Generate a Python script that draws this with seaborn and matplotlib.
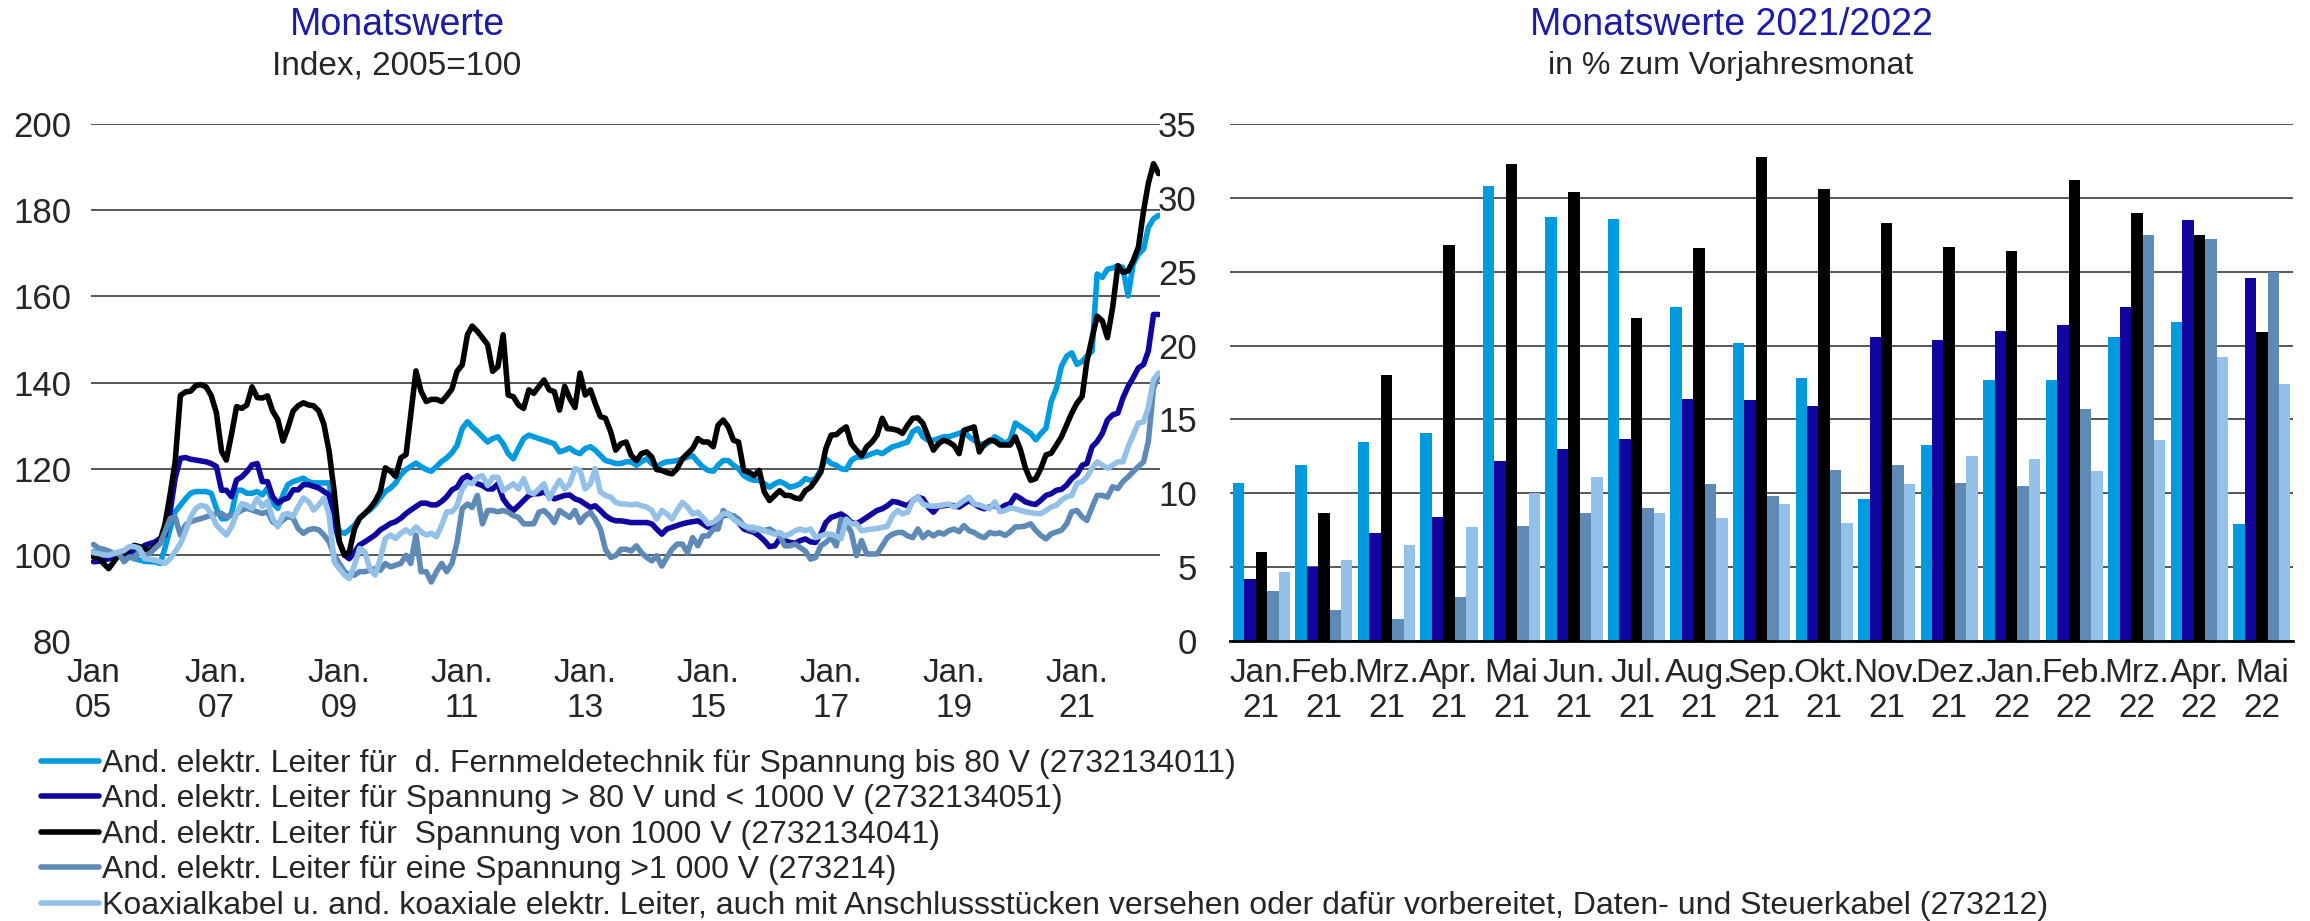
import pandas as pd
import matplotlib
matplotlib.use("Agg")
import matplotlib.pyplot as plt
import seaborn as sns

# Monthly index values 2005-01 .. 2022-05 (2005=100)
fernmelde = [
    100.7, 100.5, 100.3, 100, 99.9, 100.3, 99.5, 99.9, 99.1, 98.8, 98.5, 98.4,
    98.4, 98, 101.5, 106.1, 110, 111.5, 113, 114.3, 114.7, 114.7, 114.7, 114.3,
    110.8, 108.4, 108.4, 109.6, 115, 115, 114.3, 114.3, 114.7, 113.9, 115.5, 112,
    110.8, 113.9, 116.3, 117, 117.4, 117.8, 117, 116.7, 116.7, 116.7, 116.7, 109.3,
    105.4, 105, 105.8, 106.9, 108.5, 109.6, 110.4, 111.6, 113.2, 114.7, 115.5, 116.7,
    118.6, 119.8, 120.5, 121.3, 120.5, 119.8, 119.4, 120.5, 121.7, 122.5, 123.7, 125.4,
    129.3, 130.9, 129.7, 128.6, 127.4, 126.2, 127, 127.4, 125.8, 123.5, 122.3, 124.7,
    127, 127.8, 127.4, 127, 126.6, 126.2, 125.8, 123.9, 124.3, 124.8, 123.9, 123.5,
    124.7, 125.1, 124.3, 123.1, 121.9, 121.6, 121.2, 121.2, 121.6, 121.6, 120.8, 121.6,
    122.3, 121.2, 120.4, 121.2, 121.6, 121.7, 121.9, 122.2, 122.7, 123, 121.6, 120.4,
    119.6, 119.4, 120.8, 121.9, 121.9, 120.8, 120, 118.4, 117.7, 117.3, 117.3, 116.5,
    115.7, 116.5, 117, 116.5, 115.7, 116, 116.5, 117.7, 117.3, 117.7, 119.8, 122.3,
    121.2, 120.8, 120, 119.8, 121.9, 122.7, 122.7, 123, 123.5, 123.9, 123.5, 124.3,
    125.1, 125.4, 125.8, 126.2, 128.6, 129.3, 127.4, 126.6, 126.6, 127, 127.4, 127.4,
    127.8, 128.2, 128.6, 127.4, 126.6, 125.8, 125.4, 126.2, 127.4, 126.7, 125.9, 126.7,
    130.6, 129.8, 129, 128.2, 126.7, 128.2, 129.4, 135.6, 138.7, 143.8, 146.1, 146.9,
    144.2, 144.9, 146.1, 147.3, 165.2, 164.4, 166.3, 166.6, 167.1, 166.7, 160.1, 167.5,
    169.8, 171, 176, 178, 178.8,
]
bis_1000 = [
    98.4, 98.5, 98.8, 99.1, 99.5, 100, 100.3, 100.7, 101, 101.3, 102.2, 102.6,
    103, 103.8, 104.6, 110, 117.8, 122.4, 122.6, 122.2, 122, 121.8, 121.6, 121.2,
    120.5, 115, 115, 113.5, 117.4, 118.1, 119.3, 120.9, 121.2, 117, 117, 113.5,
    112, 112.8, 113.2, 115.1, 115.1, 116.3, 116.3, 115.9, 115.5, 114.7, 113.9, 107.7,
    103, 99.9, 99.1, 100.7, 102.3, 103, 103.8, 104.6, 105.8, 106.5, 107.3, 107.7,
    108.5, 109.6, 110.4, 111.2, 112, 112, 111.6, 111.6, 112.4, 113.5, 115.1, 115.7,
    117.7, 118.4, 117.3, 116.5, 116.1, 115.3, 115.3, 116.5, 113, 111.4, 110.3, 111.4,
    112.6, 113.8, 114.2, 114.2, 114.6, 113.8, 113, 113.4, 113.8, 113.9, 113, 112.6,
    111.8, 111, 111.4, 110.3, 109.1, 108.3, 107.9, 107.9, 107.7, 107.5, 107.5, 107.5,
    107.5, 107.2, 106, 104.8, 106, 106.4, 106.8, 107.2, 107.5, 107.7, 107.9, 107.2,
    106.4, 107.2, 108.3, 109.1, 109.5, 108.7, 107.5, 106, 105.6, 105.2, 104.4, 103.3,
    101.9, 102.1, 103.7, 103.3, 102.9, 102.7, 103.3, 103.7, 103, 102.9, 104.8, 107.5,
    108.7, 109.1, 109.5, 108.7, 107.5, 107.2, 107.9, 108.7, 109.5, 110.3, 110.7, 111.4,
    112.4, 112.2, 111.8, 111.4, 112.6, 113.4, 113, 111.1, 109.9, 111.3, 111.4, 111.6,
    111.4, 111.1, 111.8, 112.6, 111.8, 111.1, 110.7, 111.1, 111.5, 110.7, 111.5, 111.9,
    113.8, 113.1, 112.3, 111.9, 111.7, 112.7, 113.8, 114.2, 115, 115.2, 116.2, 117.7,
    118.7, 120.8, 121.2, 125.1, 126.3, 128.2, 131.3, 132.5, 132.9, 136.4, 139.1, 141.1,
    143.4, 144.2, 147.3, 155.8, 155.8,
]
von_1000 = [
    99.5, 99.5, 98, 96.8, 98.4, 100, 100.3, 101.5, 102.2, 101.9, 101.3, 101,
    102, 103.4, 107, 114, 121.6, 137, 137.8, 138, 139.3, 139.5, 139, 137,
    133, 124, 122, 128, 134.4, 134, 134.8, 139, 136.5, 136.4, 136.9, 133.4,
    131.4, 126.4, 129.5, 133.4, 134.6, 135.3, 134.8, 134.6, 133.4, 130.3, 124, 114.7,
    103, 99.9, 100.7, 106.1, 108.5, 109.6, 110.8, 112.4, 114.7, 120.2, 119.4, 118.2,
    122.5, 123.3, 132.6, 142.7, 138, 135.6, 136.1, 136.1, 135.6, 136.9, 138.5, 142.6,
    144.1, 151.1, 153.1, 151.9, 150.4, 148.8, 142.6, 143.7, 151.1, 137.1, 136.7, 134.8,
    134, 138.3, 137.5, 139.1, 140.6, 138.3, 137.9, 133.6, 139.1, 136.3, 134.2, 142.2,
    137.1, 138.3, 135.2, 132.1, 131.7, 128.6, 124.3, 125.8, 126.2, 123.1, 121.9, 123.5,
    123.9, 122.7, 119.8, 119.6, 119.1, 118.8, 120, 122.3, 123.5, 124.7, 127, 126.2,
    126.2, 125.1, 130.1, 131.3, 129.7, 126.6, 126.2, 119.6, 119.2, 118.4, 119.6, 114.6,
    112.6, 113.8, 114.9, 113.8, 113.8, 113.2, 113, 114.9, 115.7, 117.3, 119.2, 124.7,
    127.8, 127.9, 128.9, 129.7, 125.8, 124.3, 123, 125.1, 126.2, 127.8, 131.7, 129.3,
    129.2, 128.9, 128.2, 130.1, 131.7, 131.8, 130.5, 127.4, 124.3, 125.8, 126.6, 126.2,
    125.4, 123.5, 128.9, 129.3, 129.7, 123.9, 125.8, 126.6, 126.4, 125.5, 125.5, 125.5,
    127.4, 124.3, 120.1, 117.3, 117.7, 120.1, 123.2, 123.6, 125.5, 127.4, 130.2, 132.9,
    135.2, 136.8, 144.9, 150.4, 155.4, 154.3, 150.4, 157.4, 167.1, 165.6, 165.9, 168.3,
    171.4, 179.9, 186.2, 190.8, 188.5,
]
ueber_1000 = [
    102.4, 101.5, 101.3, 100.9, 100.3, 100.3, 98.4, 99.5, 99.1, 101, 99.9, 100.3,
    101.5, 102.6, 105.3, 108.4, 108.8, 104.6, 106.9, 107.7, 108.1, 108.4, 108.8, 109.2,
    109.6, 109.6, 108.8, 109.2, 109.6, 110.4, 110.8, 110.4, 110, 109.6, 110, 107.7,
    106.9, 108.1, 108.9, 108.5, 106.1, 105, 105.8, 106.1, 105.8, 104.6, 103, 99.9,
    98, 96.1, 95.3, 95.3, 96.1, 96.1, 96.4, 96.8, 96.4, 98, 97.2, 97.6,
    98, 99.9, 98, 104.6, 96.1, 96.1, 93.7, 96.1, 98, 96.1, 98, 102.9,
    110.7, 111.8, 111, 113.8, 107.2, 110.3, 110.3, 110, 110.3, 109.9, 109.1, 108.7,
    107.2, 107.2, 107.2, 109.9, 110.3, 109.1, 107.5, 110.3, 109.5, 108.7, 110.3, 107.5,
    109.1, 109.9, 108.3, 106, 101.3, 99.4, 99.8, 101.3, 101.3, 100.9, 102.1, 100.5,
    99.4, 98.6, 99.8, 97.4, 99.4, 101.3, 102.5, 102.5, 100.5, 104, 102.1, 104.4,
    104.4, 106, 106, 110.3, 109.1, 109.1, 108.3, 106.8, 106, 105.6, 106, 105.6,
    106, 105.2, 104.4, 102.1, 102.1, 102.5, 101.7, 100.9, 99, 99.4, 102.1, 102.9,
    104, 102.1, 108.3, 107.2, 105.2, 99.8, 103.3, 100.2, 100.2, 100.2, 102.1, 104,
    104.8, 105.2, 105.2, 104.4, 104, 106, 104, 105.2, 104.4, 105.2, 104.8, 105.6,
    106, 105.4, 106.8, 105.6, 105.2, 104.4, 104, 105.2, 104.9, 105.1, 104.5, 105.3,
    106.5, 106.5, 106.7, 107.2, 105.7, 104.5, 103.7, 104.9, 105.3, 105.7, 107.2, 110,
    110.3, 108.8, 108, 111.1, 113.8, 113.8, 113.4, 115.8, 115.4, 117, 118.1, 119.3,
    120.5, 121.6, 126.3, 138.7, 141.8,
]
koaxial = [
    100.5, 100.3, 100, 99.9, 100.3, 100.7, 101, 101.9, 101.9, 101.5, 99.1, 99,
    98.8, 98.4, 98, 99.1, 100.7, 102.6, 105.3, 108.8, 110.8, 111.5, 111.2, 109.6,
    106.9, 105.7, 104.6, 106.5, 109.6, 111.9, 111.5, 110.8, 113.1, 111.2, 112.4, 108.5,
    106.5, 109.3, 109.6, 108.9, 111.2, 113.2, 112.4, 110.4, 111.6, 113.2, 109.3, 98.4,
    96.8, 95.3, 94.5, 97.6, 101.5, 100.7, 96.8, 95.3, 99.1, 103.8, 104.6, 103.8,
    105, 105.8, 105, 106.5, 105.4, 104.6, 105, 104.2, 106.9, 110, 110, 111.4,
    115.3, 116.9, 116.5, 118, 118.4, 116.1, 118, 118, 114.9, 115.7, 116.5, 115.3,
    117.7, 114.6, 114.2, 115.3, 116.5, 113, 115.3, 117.3, 115.3, 116.5, 120, 119.6,
    115.3, 116.5, 120, 114.6, 113.8, 113.4, 112.2, 111.8, 111.8, 111.6, 111.8, 111.4,
    111.1, 110.3, 108.3, 110.3, 109.5, 108.3, 110.3, 112.2, 111.1, 109.5, 109.9, 108.7,
    107.2, 107.5, 108.5, 109.5, 109.5, 108.3, 107.5, 106.8, 106.4, 106.4, 106, 105.6,
    105.2, 104.8, 105.2, 104.4, 104.8, 105.6, 106, 105.6, 106, 104, 104.4, 104.8,
    104.8, 104.4, 103.7, 108.3, 107.2, 107.2, 105.6, 105.8, 106, 106.1, 106.4, 106.6,
    109.1, 110.3, 109.5, 109.9, 112.6, 113.4, 111.8, 111.4, 111.3, 111.4, 111.6, 111.8,
    111.1, 111.8, 112.6, 113.4, 111.8, 111.6, 111.1, 110.7, 112.3, 110, 110.3, 110.9,
    110.7, 110.3, 110, 109.8, 109.6, 109.6, 110.3, 111.1, 111.5, 112.7, 113.5, 113.8,
    116.6, 117, 118.1, 120.1, 121.6, 120.8, 120.1, 120.8, 121.6, 121.6, 125.1, 127.8,
    130.6, 130.9, 134.1, 140.7, 142.2,
]

# Change to previous year's month in %, Jan 2021 .. May 2022
bar_months = ["Jan.\n21", "Feb.\n21", "Mrz.\n21", "Apr.\n21", "Mai\n21", "Jun.\n21",
              "Jul.\n21", "Aug.\n21", "Sep.\n21", "Okt.\n21", "Nov.\n21", "Dez.\n21",
              "Jan.\n22", "Feb.\n22", "Mrz.\n22", "Apr.\n22", "Mai\n22"]
bar_fernmelde = [10.7, 11.9, 13.5, 14.1, 30.8, 28.7, 28.6, 22.6, 20.2, 17.8, 9.6, 13.3,
                 17.7, 17.7, 20.6, 21.6, 7.9]
bar_bis_1000 = [4.2, 5.0, 7.3, 8.4, 12.2, 13.0, 13.7, 16.4, 16.3, 15.9, 20.6, 20.4,
                21.0, 21.4, 22.6, 28.5, 24.6]
bar_von_1000 = [6.0, 8.7, 18.0, 26.8, 32.3, 30.4, 21.9, 26.6, 32.8, 30.6, 28.3, 26.7,
                26.4, 31.2, 29.0, 27.5, 20.9]
bar_ueber_1000 = [3.4, 2.1, 1.5, 3.0, 7.8, 8.7, 9.0, 10.6, 9.8, 11.6, 11.9, 10.7,
                  10.5, 15.7, 27.5, 27.2, 25.0]
bar_koaxial = [4.7, 5.5, 6.5, 7.7, 10.0, 11.1, 8.7, 8.3, 9.3, 8.0, 10.6, 12.5,
               12.3, 11.5, 13.6, 19.2, 17.4]

names = [
    "And. elektr. Leiter für  d. Fernmeldetechnik für Spannung bis 80 V (2732134011)",
    "And. elektr. Leiter für Spannung > 80 V und < 1000 V (2732134051)",
    "And. elektr. Leiter für  Spannung von 1000 V (2732134041)",
    "And. elektr. Leiter für eine Spannung >1 000 V (273214)",
    "Koaxialkabel u. and. koaxiale elektr. Leiter, auch mit Anschlussstücken versehen "
    "oder dafür vorbereitet, Daten- und Steuerkabel (273212)",
]
colors = ["#009ADE", "#10069F", "#000000", "#5F8AB5", "#94C1E8"]
title_color = "#1C1CA6"

# long-form tables for seaborn
frames = []
for name, vals in zip(names, [fernmelde, bis_1000, von_1000, ueber_1000, koaxial]):
    frames.append(pd.DataFrame({
        "Monat": pd.date_range("2005-01-01", periods=len(vals), freq="MS"),
        "Index": vals,
        "Reihe": name,
    }))
lines_df = pd.concat(frames, ignore_index=True)

frames = []
for name, vals in zip(names, [bar_fernmelde, bar_bis_1000, bar_von_1000, bar_ueber_1000, bar_koaxial]):
    frames.append(pd.DataFrame({"Monat": bar_months, "Prozent": vals, "Reihe": name}))
bars_df = pd.concat(frames, ignore_index=True)

sns.set_style("white")
plt.rcParams["font.family"] = ["Liberation Sans", "DejaVu Sans"]

fig = plt.figure(figsize=(23.1, 9.21), dpi=100)
ax1 = fig.add_axes([0.0394, 0.304, 0.4628, 0.5613])
ax2 = fig.add_axes([0.5325, 0.304, 0.4602, 0.5613])

# left: monthly index lines
sns.lineplot(data=lines_df, x="Monat", y="Index", hue="Reihe", hue_order=names,
             palette=colors, linewidth=4, ax=ax1)
handles, labels = ax1.get_legend_handles_labels()
ax1.get_legend().remove()

ax1.set_ylim(80, 200)
ax1.set_yticks(range(80, 201, 20))
ax1.set_xlim(pd.Timestamp("2004-12-17"), pd.Timestamp("2022-05-10"))
tick_dates = [pd.Timestamp(y, 1, 1) for y in range(2005, 2022, 2)]
ax1.set_xticks(tick_dates)
ax1.set_xticklabels(["Jan\n05"] + [f"Jan.\n{y % 100:02d}" for y in range(2007, 2022, 2)])
ax1.set_xlabel("")
ax1.set_ylabel("")
ax1.grid(axis="y", color="#4a4a4a", linewidth=1.3)
ax1.set_axisbelow(True)
ax1.yaxis.get_gridlines()[0].set_visible(False)
ax1.tick_params(axis="both", length=0)
ax1.tick_params(axis="y", pad=14, labelsize=25)
ax1.tick_params(axis="x", pad=12, labelsize=24)
sns.despine(ax=ax1, left=True, bottom=True)

# right: bars, change to previous year
sns.barplot(data=bars_df, x="Monat", y="Prozent", hue="Reihe", hue_order=names,
            order=bar_months, palette=colors, saturation=1, width=0.915, gap=0,
            linewidth=0, legend=False, ax=ax2)
ax2.set_ylim(0, 35)
ax2.set_yticks(range(0, 36, 5))
ax2.set_xlim(-0.5, len(bar_months) - 0.5)
ax2.set_xlabel("")
ax2.set_ylabel("")
ax2.grid(axis="y", color="#4a4a4a", linewidth=1.3)
ax2.set_axisbelow(True)
ax2.tick_params(axis="both", length=0)
ax2.tick_params(axis="y", pad=24, labelsize=25)
ax2.tick_params(axis="x", pad=12, labelsize=24)
sns.despine(ax=ax2, left=True)
ax2.spines["bottom"].set_color("black")
ax2.spines["bottom"].set_linewidth(2)

# titles
fig.text(397 / 2310, 1 - 25 / 921, "Monatswerte", ha="center", va="center",
         fontsize=27, color=title_color)
fig.text(397 / 2310, 1 - 66 / 921, "Index, 2005=100", ha="center", va="center", fontsize=24)
fig.text(1731 / 2310, 1 - 25 / 921, "Monatswerte 2021/2022", ha="center", va="center",
         fontsize=27, color=title_color)
fig.text(1731 / 2310, 1 - 66 / 921, "in % zum Vorjahresmonat", ha="center", va="center",
         fontsize=23)

fig.legend(handles, names, loc="upper left", bbox_to_anchor=(41 / 2310, 1 - 749 / 921),
           frameon=False, fontsize=23, handlelength=1.8, handletextpad=0.1,
           labelspacing=0.17, borderaxespad=0, borderpad=0)

fig.savefig("out.png", dpi=100)
